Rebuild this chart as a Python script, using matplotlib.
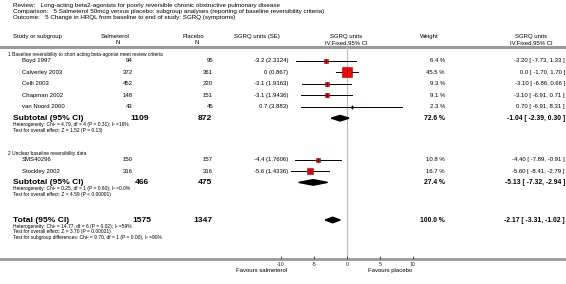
import numpy as np
import matplotlib.pyplot as plt
from matplotlib.patches import Polygon

plt.rcParams['font.family'] = ['Liberation Sans', 'DejaVu Sans']

# --- dati ---
title_lines = [
    'Review:   Long-acting beta2-agonists for poorly reversible chronic obstructive pulmonary disease',
    'Comparison:   5 Salmeterol 50mcg versus placebo: subgroup analyses (reporting of baseline reversibility criteria)',
    'Outcome:   5 Change in HRQL from baseline to end of study: SGRQ (symptoms)',
]

studies = ['Boyd 1997', 'Calverley 2003', 'Celli 2003', 'Chapman 2002', 'van Noord 2000',
           'SMS40296', 'Stockley 2002']
group = [0, 0, 0, 0, 0, 1, 1]
n_salm = [94, 372, 452, 148, 43, 150, 316]
n_plac = [95, 361, 220, 151, 45, 157, 316]
md = [-3.2, 0, -3.1, -3.1, 0.7, -4.4, -5.6]
se = [2.3124, 0.867, 1.9163, 1.9436, 3.883, 1.7606, 1.4336]
weight = [6.4, 45.5, 9.3, 9.1, 2.3, 10.8, 16.7]
ci_lo = [-7.73, -1.70, -6.86, -6.91, -6.91, -7.89, -8.41]
ci_hi = [1.33, 1.70, 0.66, 0.71, 8.31, -0.91, -2.79]

group_names = ['1 Baseline reversibility to short acting beta-agonist meet review criteria',
               '2 Unclear baseline reversibility data']
sub_n_salm = [1109, 466]
sub_n_plac = [872, 475]
sub_weight = [72.6, 27.4]
sub_est = [-1.04, -5.13]
sub_lo = [-2.39, -7.32]
sub_hi = [0.30, -2.94]
sub_het = ['Heterogeneity: Chi² = 4.79, df = 4 (P = 0.31); I² =16%',
           'Heterogeneity: Chi² = 0.25, df = 1 (P = 0.60); I² =0.0%']
sub_test = ['Test for overall effect: Z = 1.52 (P = 0.13)',
            'Test for overall effect: Z = 4.59 (P < 0.00001)']

tot_n_salm, tot_n_plac = 1575, 1347
tot_weight = 100.0
tot_est, tot_lo, tot_hi = -2.17, -3.31, -1.02
tot_notes = ['Heterogeneity: Chi² = 14.77, df = 6 (P = 0.02); I² =59%',
             'Test for overall effect: Z = 3.70 (P = 0.00021)',
             'Test for subgroup differences: Chi² = 9.70, df = 1 (P = 0.00), I² =90%']

xticks = [-10, -5, 0, 5, 10]
fav_left, fav_right = 'Favours salmeterol', 'Favours placebo'


def fmt_est(e, lo, hi):
    e_s = '0.0' if e == 0 else f'{e:.2f}'
    return f'{e_s} [ {lo:.2f}, {hi:.2f} ]'


# --- layout (pixel) ---
W, H = 566, 284
rule_y, axis_y = 47, 259
row_h = 11.6
fs_title, fs_small, fs_row, fs_bold = 4.5, 3.5, 4.3, 6.1

fig = plt.figure(figsize=(W / 100, H / 100), dpi=100)
ax = fig.add_axes([0, 0, 1, 1])
ax.set_xlim(0, W)
ax.set_ylim(H, 0)
ax.axis('off')

# asse forest: -10..10 tra x=281 e x=413
fx0, fx1 = 281, 413
axf = fig.add_axes([fx0 / W, (H - axis_y) / H, (fx1 - fx0) / W, (axis_y - rule_y) / H])
axf.set_xlim(-10, 10)
axf.set_ylim(axis_y, rule_y)
axf.patch.set_alpha(0)
for s in axf.spines.values():
    s.set_visible(False)
axf.set_yticks([])
axf.set_xticks(xticks)
axf.set_xticklabels([str(t) for t in xticks])
axf.tick_params(axis='x', direction='in', length=2, width=0.6, color='#333333',
                labelsize=3.8, pad=2.0, labelcolor='#222222')
axf.axvline(0, color='#bdbdbd', lw=0.8, zorder=1)

# titolo
for i, t in enumerate(title_lines):
    ax.text(13, 6 + 6 * i, t, fontsize=fs_title, va='center', ha='left')

# intestazioni
hy1, hy2 = 36.5, 42.5
ax.text(13, hy1, 'Study or subgroup', fontsize=fs_row, va='center')
ax.text(115, hy1, 'Salmeterol', fontsize=fs_row, va='center', ha='center')
ax.text(118, hy2, 'N', fontsize=fs_row, va='center', ha='center')
ax.text(193, hy1, 'Placebo', fontsize=fs_row, va='center', ha='center')
ax.text(197, hy2, 'N', fontsize=fs_row, va='center', ha='center')
ax.text(234, hy1, 'SGRQ units (SE)', fontsize=fs_row, va='center', ha='left')
ax.text(346, hy1, 'SGRQ units', fontsize=fs_row, va='center', ha='center')
ax.text(346, hy2, 'IV,Fixed,95% CI', fontsize=fs_row, va='center', ha='center')
ax.text(429, hy1, 'Weight', fontsize=fs_row, va='center', ha='center')
ax.text(531, hy1, 'SGRQ units', fontsize=fs_row, va='center', ha='center')
ax.text(531, hy2, 'IV,Fixed,95% CI', fontsize=fs_row, va='center', ha='center')
ax.axhline(rule_y, color='#9a9a9a', lw=2.2)
ax.axhline(axis_y, color='#9a9a9a', lw=2.0)

# righe
group_start = [54.5, 153.5]
for g in range(2):
    y = group_start[g]
    ax.text(8, y, group_names[g], fontsize=fs_small, va='center')
    y += 6
    idx = [i for i in range(len(studies)) if group[i] == g]
    for i in idx:
        ax.text(22, y, studies[i], fontsize=fs_row, va='center')
        ax.text(133, y, str(n_salm[i]), fontsize=fs_row, va='center', ha='right')
        ax.text(213, y, str(n_plac[i]), fontsize=fs_row, va='center', ha='right')
        ax.text(288, y, f'{md[i]:g} ({se[i]:g})', fontsize=fs_row, va='center', ha='right')
        ax.text(445, y, f'{weight[i]:.1f} %', fontsize=fs_row, va='center', ha='right')
        ax.text(565, y, fmt_est(md[i], ci_lo[i], ci_hi[i]), fontsize=fs_row, va='center', ha='right')
        axf.plot([ci_lo[i], ci_hi[i]], [y, y], color='black', lw=0.7, zorder=2)
        side = 1.4 * np.sqrt(weight[i]) * 0.72
        axf.scatter([md[i]], [y], marker='s', s=side ** 2, color='#ff0000',
                    edgecolors='#b00000', linewidths=0.4, zorder=3)
        axf.plot([md[i]], [y], marker='|', ms=3.2, mew=0.6, color='black', zorder=4)
        y += row_h
    ys = y - 0.3
    ax.text(13, ys, 'Subtotal (95% CI)', fontsize=fs_bold, va='center', weight='bold')
    ax.text(149, ys, str(sub_n_salm[g]), fontsize=fs_bold, va='center', ha='right', weight='bold')
    ax.text(212, ys, str(sub_n_plac[g]), fontsize=fs_bold, va='center', ha='right', weight='bold')
    ax.text(445, ys, f'{sub_weight[g]:.1f} %', fontsize=fs_row + 0.6, va='center', ha='right', weight='bold')
    ax.text(565, ys, fmt_est(sub_est[g], sub_lo[g], sub_hi[g]), fontsize=fs_row + 0.6,
            va='center', ha='right', weight='bold')
    axf.add_patch(Polygon([[sub_lo[g], ys], [sub_est[g], ys - 2.8], [sub_hi[g], ys],
                           [sub_est[g], ys + 2.8]], closed=True, color='black', zorder=3))
    ax.text(13, ys + 6.3, sub_het[g], fontsize=fs_small, va='center')
    ax.text(13, ys + 12, sub_test[g], fontsize=fs_small, va='center')

# totale
yt = 220
ax.text(13, yt, 'Total (95% CI)', fontsize=fs_bold, va='center', weight='bold')
ax.text(151, yt, str(tot_n_salm), fontsize=fs_bold, va='center', ha='right', weight='bold')
ax.text(213, yt, str(tot_n_plac), fontsize=fs_bold, va='center', ha='right', weight='bold')
ax.text(445, yt, f'{tot_weight:.1f} %', fontsize=fs_row + 0.6, va='center', ha='right', weight='bold')
ax.text(565, yt, fmt_est(tot_est, tot_lo, tot_hi), fontsize=fs_row + 0.6,
        va='center', ha='right', weight='bold')
axf.add_patch(Polygon([[tot_lo, yt], [tot_est, yt - 2.8], [tot_hi, yt], [tot_est, yt + 2.8]],
                      closed=True, color='black', zorder=3))
for k, t in enumerate(tot_notes):
    ax.text(13, yt + 6.3 + 5.6 * k, t, fontsize=fs_small, va='center')

# etichette "favours"
ax.text(287, 270.5, fav_left, fontsize=fs_row, va='center', ha='right')
ax.text(368, 270.5, fav_right, fontsize=fs_row, va='center', ha='left')

fig.savefig('out.png', dpi=100)
